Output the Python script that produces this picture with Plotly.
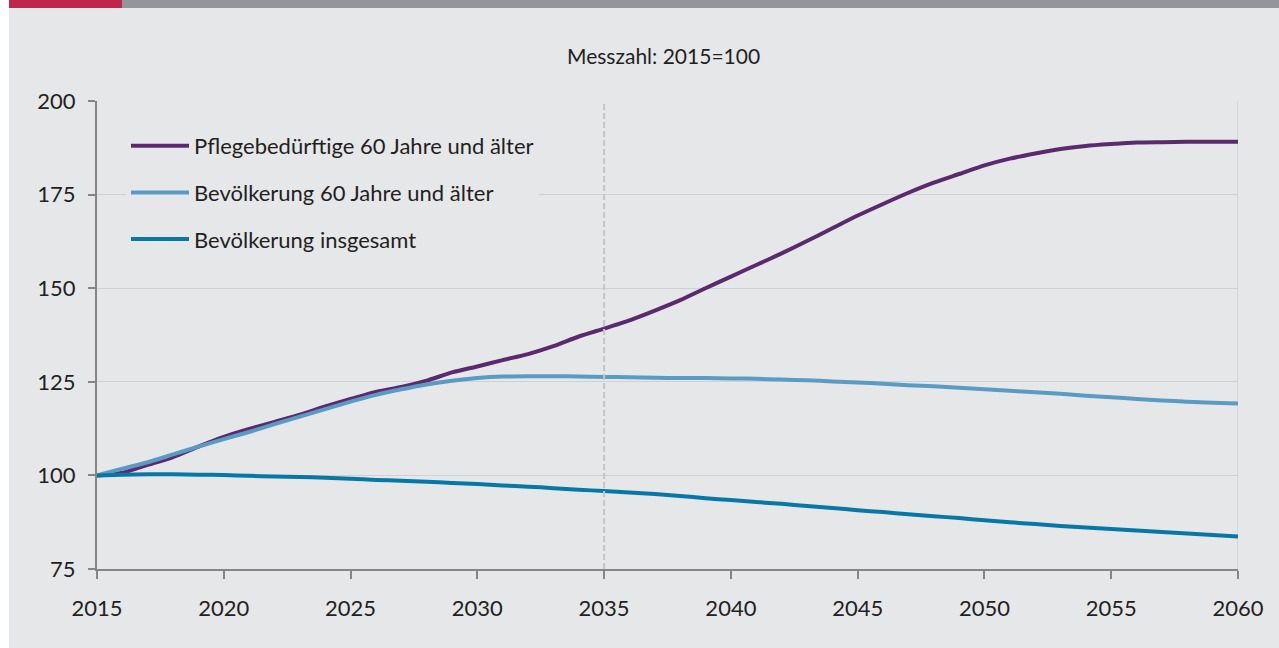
import plotly.graph_objects as go

years = list(range(2015, 2061))

pflege_60plus = [100, 100.7, 102.8, 104.9, 107.7, 110.3, 112.4, 114.3, 116.2, 118.4,
                 120.4, 122.3, 123.6, 125.3, 127.5, 129.1, 130.8, 132.4, 134.5, 137.1,
                 139.2, 141.4, 144.0, 146.8, 150.0, 153.1, 156.2, 159.3, 162.6, 166.0,
                 169.4, 172.5, 175.5, 178.2, 180.5, 182.8, 184.6, 186.0, 187.2, 188.0,
                 188.5, 188.9, 189.0, 189.1, 189.1, 189.1]

bev_60plus = [100, 101.8, 103.5, 105.6, 107.7, 109.7, 111.6, 113.7, 115.7, 117.7,
              119.7, 121.5, 123.0, 124.3, 125.3, 126.0, 126.4, 126.5, 126.5, 126.4,
              126.3, 126.2, 126.1, 126.0, 126.0, 125.9, 125.8, 125.6, 125.4, 125.1,
              124.8, 124.5, 124.1, 123.8, 123.4, 123.0, 122.6, 122.2, 121.8, 121.3,
              120.9, 120.4, 120.0, 119.7, 119.4, 119.2]

bev_gesamt = [100, 100.2, 100.3, 100.3, 100.2, 100.1, 99.9, 99.7, 99.6, 99.4,
              99.1, 98.8, 98.6, 98.3, 98.0, 97.7, 97.3, 97.0, 96.6, 96.2,
              95.8, 95.4, 95.0, 94.5, 93.9, 93.4, 92.9, 92.4, 91.8, 91.3,
              90.7, 90.2, 89.6, 89.1, 88.6, 88.0, 87.5, 87.0, 86.5, 86.1,
              85.7, 85.3, 84.9, 84.5, 84.1, 83.7]

series_names = ["Pflegebedürftige 60 Jahre und älter",
                "Bevölkerung 60 Jahre und älter",
                "Bevölkerung insgesamt"]
series_values = [pflege_60plus, bev_60plus, bev_gesamt]
series_colors = ["#5b2a6e", "#5a9bc3", "#0778a6"]

x_ticks = [2015, 2020, 2025, 2030, 2035, 2040, 2045, 2050, 2055, 2060]
y_ticks = [75, 100, 125, 150, 175, 200]
title_text = "Messzahl: 2015=100"
marker_year = 2035

BG = "#e6e7e9"
FONT = "Lato"
TXT = "#231f20"

fig = go.Figure()
for i, (name, vals, col) in enumerate(zip(series_names, series_values, series_colors)):
    fig.add_trace(go.Scatter(
        x=years, y=vals, mode="lines", name=name,
        line=dict(color=col, width=4, shape="spline", smoothing=0.6),
        legendgroup=f"g{i}",
    ))

W, H = 1279, 648
L, R, T, B = 97, 41, 101, 79
pw, ph = W - L - R, H - T - B

def px_x(p):
    return (p - L) / pw

def px_y(p):
    return (H - B - p) / ph

shapes = [
    dict(type="rect", xref="paper", yref="paper", x0=px_x(0), x1=px_x(9),
         y0=px_y(H), y1=px_y(0), fillcolor="#ffffff", line=dict(width=0), layer="below"),
    dict(type="rect", xref="paper", yref="paper", x0=px_x(9), x1=px_x(122),
         y0=px_y(8), y1=px_y(0), fillcolor="#c0264c", line=dict(width=0)),
    dict(type="rect", xref="paper", yref="paper", x0=px_x(122), x1=px_x(W),
         y0=px_y(8), y1=px_y(0), fillcolor="#939598", line=dict(width=0)),
    dict(type="line", xref="x", yref="paper", x0=2060, x1=2060, y0=0, y1=1,
         line=dict(color="#cfd0d2", width=1.5), layer="below"),
    dict(type="line", xref="x", yref="paper", x0=marker_year, x1=marker_year, y0=0, y1=1,
         line=dict(color="#c3c4c6", width=2, dash="6px,3px"), layer="above"),
]

fig.update_layout(
    width=W, height=H,
    margin=dict(l=L, r=R, t=T, b=B, pad=0),
    paper_bgcolor=BG, plot_bgcolor=BG,
    font=dict(family=FONT, size=22, color=TXT),
    showlegend=True,
    legend=dict(
        x=px_x(126), y=px_y(125), xanchor="left", yanchor="top",
        xref="paper", yref="paper",
        bgcolor=BG, borderwidth=0,
        font=dict(family=FONT, size=22, color=TXT),
        tracegroupgap=15, itemwidth=58,
        itemclick=False, itemdoubleclick=False,
    ),
    shapes=shapes,
    annotations=[dict(text=title_text, xref="paper", yref="paper",
                      x=px_x(663), y=px_y(56), xanchor="center", yanchor="middle",
                      showarrow=False, font=dict(family=FONT, size=21, color=TXT))],
    xaxis=dict(
        range=[2015, 2060], tickvals=x_ticks, ticktext=[str(v) for v in x_ticks],
        showgrid=False, zeroline=False,
        showline=True, linecolor="#858585", linewidth=2,
        ticks="outside", ticklen=8, tickwidth=1.5, tickcolor="#858585",
        ticklabelstandoff=11,
        tickfont=dict(family=FONT, size=22, color=TXT),
    ),
    yaxis=dict(
        range=[75, 200], tickvals=y_ticks, ticktext=[str(v) for v in y_ticks],
        showgrid=True, gridcolor="#cfd0d2", gridwidth=1, zeroline=False,
        showline=True, linecolor="#858585", linewidth=2,
        ticks="outside", ticklen=7, tickwidth=1.5, tickcolor="#858585",
        ticklabelstandoff=8,
        tickfont=dict(family=FONT, size=22, color=TXT),
    ),
)

fig.write_html("out.html", config={"displayModeBar": False},
               post_script="document.body.style.margin='0';document.body.style.overflow='hidden';")
